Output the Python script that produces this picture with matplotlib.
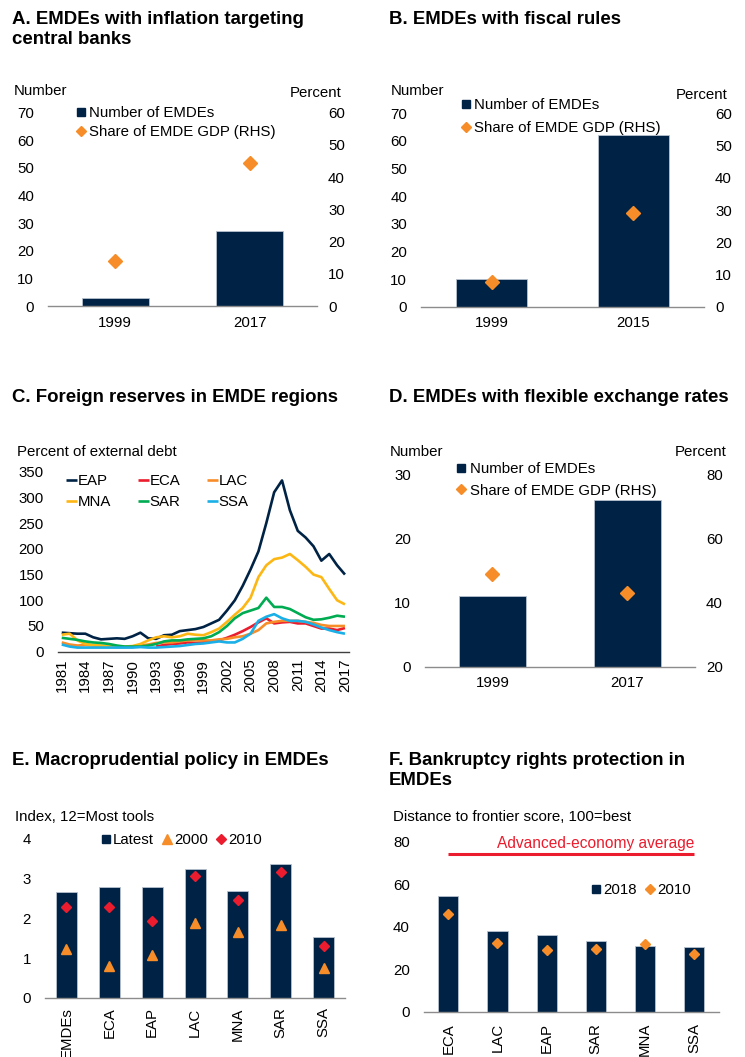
import matplotlib.pyplot as plt
from matplotlib.lines import Line2D
import numpy as np

plt.rcParams['font.family'] = ['Liberation Sans', 'DejaVu Sans']
plt.rcParams['font.size'] = 10.8

NAVY = '#002345'
ORANGE = '#F78D28'
RED = '#EB1C2D'
YELLOW = '#FDB714'
GREEN = '#00AB51'
BLUE = '#1AAFE6'
AXIS = '#8c8c8c'

# A. inflation targeting
a_years = ['1999', '2017']
a_count = [3, 27]
a_share = [14, 44.5]

# B. fiscal rules
b_years = ['1999', '2015']
b_count = [10, 62]
b_share = [7.7, 29]

# C. foreign reserves, percent of external debt
c_years = list(range(1981, 2018))
c_eap = [37, 36, 35, 35, 28, 24, 25, 26, 25, 30, 37, 26, 25, 32, 33, 40, 42, 44, 48,
         55, 62, 80, 100, 128, 160, 195, 250, 310, 333, 275, 235, 222, 205, 177, 190, 168, 150]
c_eca = [np.nan] * 12 + [10, 13, 15, 16, 18, 17, 18, 20, 22, 27, 33, 40, 48, 57, 65,
                         55, 57, 58, 55, 55, 50, 45, 45, 42, 46]
c_lac = [18, 14, 12, 13, 12, 11, 10, 9, 9, 10, 12, 14, 17, 18, 18, 20, 22, 22, 22,
         22, 24, 25, 28, 30, 35, 42, 55, 58, 60, 60, 60, 58, 56, 52, 50, 50, 50]
c_mna = [33, 35, 22, 15, 13, 12, 11, 10, 10, 11, 15, 22, 28, 30, 28, 30, 35, 33, 32,
         38, 45, 58, 72, 85, 105, 145, 168, 180, 183, 190, 178, 165, 150, 145, 122, 100, 92]
c_sar = [27, 25, 23, 20, 18, 17, 15, 12, 10, 10, 10, 12, 15, 20, 22, 22, 24, 25, 26,
         30, 38, 50, 65, 75, 80, 85, 105, 87, 87, 83, 75, 67, 62, 63, 66, 70, 68]
c_ssa = [14, 10, 8, 8, 8, 8, 8, 8, 8, 8, 9, 8, 8, 9, 10, 11, 13, 15, 16,
         18, 20, 18, 18, 25, 35, 60, 68, 73, 65, 60, 60, 58, 53, 47, 42, 38, 35]
c_names = ['EAP', 'ECA', 'LAC', 'MNA', 'SAR', 'SSA']
c_colors = [NAVY, RED, ORANGE, YELLOW, GREEN, BLUE]
c_ticks = list(range(1981, 2018, 3))

# D. flexible exchange rates
d_years = ['1999', '2017']
d_count = [11, 26]
d_share = [49, 43]

# E. macroprudential index
e_regions = ['EMDEs', 'ECA', 'EAP', 'LAC', 'MNA', 'SAR', 'SSA']
e_latest = [2.66, 2.80, 2.80, 3.24, 2.69, 3.36, 1.53]
e_2000 = [1.24, 0.81, 1.08, 1.89, 1.66, 1.83, 0.74]
e_2010 = [2.29, 2.29, 1.93, 3.08, 2.46, 3.18, 1.30]

# F. bankruptcy rights
f_regions = ['ECA', 'LAC', 'EAP', 'SAR', 'MNA', 'SSA']
f_2018 = [54.6, 38.1, 36.1, 33.3, 30.9, 30.4]
f_2010 = [45.8, 32.5, 29.0, 29.3, 31.8, 27.3]
f_adv = 74.2

W, H = 745, 1057
fig = plt.figure(figsize=(W / 100, H / 100), dpi=100)


def px_axes(left, right, top, bottom):
    return fig.add_axes([left / W, 1 - bottom / H, (right - left) / W, (bottom - top) / H])


def fig_text(x, y, s, **kw):
    fig.text(x / W, 1 - y / H, s, **kw)


def clean(ax, color=AXIS):
    for side in ['top', 'right', 'left']:
        ax.spines[side].set_visible(False)
    ax.spines['bottom'].set_color(color)
    ax.spines['bottom'].set_linewidth(1.0)
    ax.tick_params(axis='both', length=0)
    ax.tick_params(axis='y', pad=10)
    ax.tick_params(axis='x', pad=7)


def title(x, y, s):
    fig_text(x, y, s, fontsize=13.4, fontweight='bold', va='top', ha='left',
             linespacing=1.2)


def bar_panel(box, cats, counts, shares, ylim, yticks, rlim, rticks, leg_xy, spacing):
    ax = px_axes(*box)
    bars = ax.bar(cats, counts, width=0.5, color=NAVY, edgecolor='#b8c2cf',
                  linewidth=0.6, label='Number of EMDEs')
    ax.set_xlim(-0.5, 1.5)
    ax.set_ylim(*ylim)
    ax.set_yticks(yticks)
    clean(ax)
    ax2 = ax.twinx()
    pts, = ax2.plot(cats, shares, 'D', color=ORANGE, markersize=7.5, linestyle='none',
                    label='Share of EMDE GDP (RHS)')
    ax2.set_ylim(*rlim)
    ax2.set_yticks(rticks)
    for side in ['top', 'right', 'left', 'bottom']:
        ax2.spines[side].set_visible(False)
    ax2.tick_params(axis='y', length=0, pad=8)
    sq = Line2D([], [], marker='s', color=NAVY, linestyle='none', markersize=6)
    dm = Line2D([], [], marker='D', color=ORANGE, linestyle='none', markersize=5.5)
    ax2.legend([sq, dm], [bars.get_label(), pts.get_label()], loc='upper left',
               bbox_to_anchor=(leg_xy[0] / W, 1 - leg_xy[1] / H),
               bbox_transform=fig.transFigure, frameon=False, borderpad=0,
               borderaxespad=0, handlelength=0.6, handletextpad=0.25,
               labelspacing=spacing)
    return ax, ax2


# Panel A
title(12, 11, 'A. EMDEs with inflation targeting\ncentral banks')
bar_panel((48, 317, 112.7, 306), a_years, a_count, a_share, (0, 70), range(0, 71, 10),
          (0, 60), range(0, 61, 10), (76, 106), 0.35)
fig_text(14, 91, 'Number', va='center')
fig_text(342, 93, 'Percent', va='center', ha='right')

# Panel B
title(389, 11, 'B. EMDEs with fiscal rules')
bar_panel((421, 704, 113.3, 306.7), b_years, b_count, b_share, (0, 70), range(0, 71, 10),
          (0, 60), range(0, 61, 10), (461, 98), 0.6)
fig_text(391, 91, 'Number', va='center')
fig_text(728, 95, 'Percent', va='center', ha='right')

# Panel C
title(12, 389, 'C. Foreign reserves in EMDE regions')
axc = px_axes(57.8, 348.9, 471.7, 651.7)
lines = []
for name, vals, col in zip(c_names, [c_eap, c_eca, c_lac, c_mna, c_sar, c_ssa], c_colors):
    ln, = axc.plot(c_years, vals, color=col, linewidth=1.9, label=name, solid_capstyle='butt')
    lines.append(ln)
axc.set_xlim(1980.5, 2017.5)
axc.set_ylim(0, 350)
axc.set_yticks(range(0, 351, 50))
axc.set_xticks(c_ticks)
axc.set_xticklabels([str(y) for y in c_ticks], rotation=90)
clean(axc, color='#404040')
axc.tick_params(axis='x', pad=5)
# legend reads row by row: EAP ECA LAC / MNA SAR SSA
order = [0, 3, 1, 4, 2, 5]
axc.legend([lines[i] for i in order], [c_names[i] for i in order], ncol=3,
           loc='upper left', bbox_to_anchor=(66 / W, 1 - 474 / H),
           bbox_transform=fig.transFigure, frameon=False, borderpad=0, borderaxespad=0,
           handlelength=0.75, handletextpad=0.05, columnspacing=1.75, labelspacing=0.5)
fig_text(17, 452, 'Percent of external debt', va='center')

# Panel D
title(389, 389, 'D. EMDEs with flexible exchange rates')
bar_panel((425, 695, 474.3, 666.7), d_years, d_count, d_share, (0, 30), range(0, 31, 10),
          (20, 80), range(20, 81, 20), (457, 462), 0.5)
fig_text(390, 452, 'Number', va='center')
fig_text(727, 452, 'Percent', va='center', ha='right')

# Panel E
title(12, 752, 'E. Macroprudential policy in EMDEs')
axe = px_axes(45, 345, 839, 997.7)
axe.bar(e_regions, e_latest, width=0.49, color=NAVY, edgecolor='#b8c2cf', linewidth=0.6,
        label='Latest')
axe.plot(e_regions, e_2000, '^', color=ORANGE, markersize=7, linestyle='none', label='2000')
axe.plot(e_regions, e_2010, 'D', color=RED, markersize=5.5, linestyle='none', label='2010')
axe.set_xlim(-0.5, 6.5)
axe.set_ylim(0, 4)
axe.set_yticks(range(0, 5))
axe.set_xticks(range(len(e_regions)))
axe.set_xticklabels(e_regions, rotation=90)
clean(axe)
axe.tick_params(axis='x', pad=7)
sq = Line2D([], [], marker='s', color=NAVY, linestyle='none', markersize=6)
tr = Line2D([], [], marker='^', color=ORANGE, linestyle='none', markersize=6.5)
dm = Line2D([], [], marker='D', color=RED, linestyle='none', markersize=5)
axe.legend([sq, tr, dm], ['Latest', '2000', '2010'], ncol=3, loc='upper left',
           bbox_to_anchor=(101 / W, 1 - 833 / H), bbox_transform=fig.transFigure,
           frameon=False, borderpad=0, borderaxespad=0, handlelength=0.6,
           handletextpad=0.2, columnspacing=0.55)
fig_text(15, 817, 'Index, 12=Most tools', va='center')

# Panel F
title(389, 752, 'F. Bankruptcy rights protection in\nEMDEs')
axf = px_axes(423.7, 718.7, 841.7, 1011.7)
axf.bar(f_regions, f_2018, width=0.41, color=NAVY, edgecolor='#b8c2cf', linewidth=0.6,
        label='2018')
axf.plot(f_regions, f_2010, 'D', color=ORANGE, markersize=5.5, linestyle='none', label='2010')
axf.hlines(f_adv, 0, 5, color=RED, linewidth=2.2)
axf.text(5, f_adv + 1.5, 'Advanced-economy average', color=RED, ha='right', va='bottom',
         fontsize=11.2)
axf.set_xlim(-0.5, 5.5)
axf.set_ylim(0, 80)
axf.set_yticks(range(0, 81, 20))
axf.set_xticks(range(len(f_regions)))
axf.set_xticklabels(f_regions, rotation=90)
clean(axf)
axf.tick_params(axis='x', pad=8)
sq = Line2D([], [], marker='s', color=NAVY, linestyle='none', markersize=6)
dm = Line2D([], [], marker='D', color=ORANGE, linestyle='none', markersize=5)
axf.legend([sq, dm], ['2018', '2010'], ncol=2, loc='upper left',
           bbox_to_anchor=(591 / W, 1 - 883 / H), bbox_transform=fig.transFigure,
           frameon=False, borderpad=0, borderaxespad=0, handlelength=0.6,
           handletextpad=0.2, columnspacing=0.6)
fig_text(393, 817, 'Distance to frontier score, 100=best', va='center')

fig.savefig('out.png', dpi=100)
